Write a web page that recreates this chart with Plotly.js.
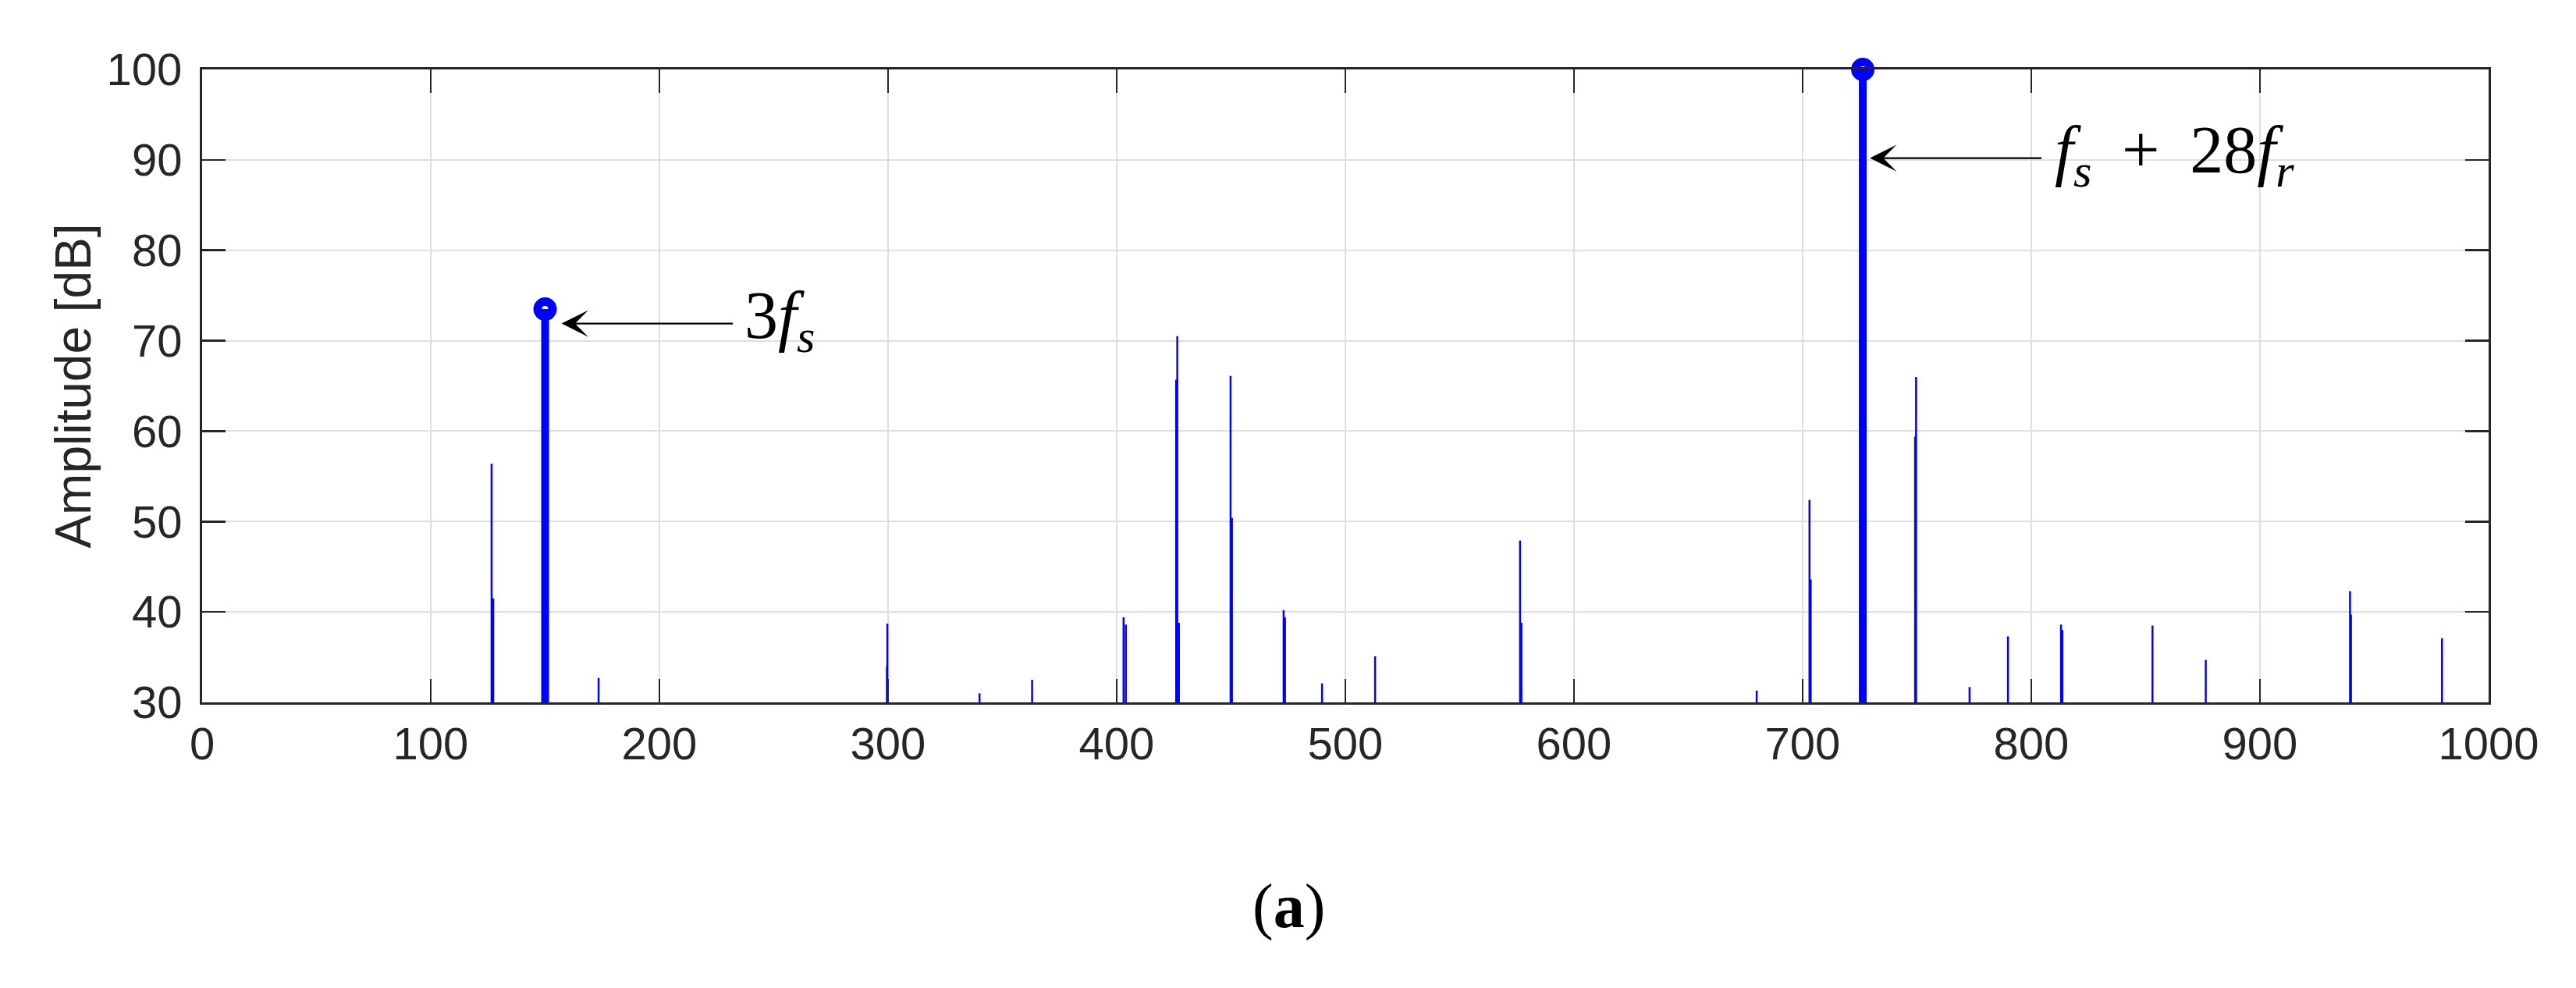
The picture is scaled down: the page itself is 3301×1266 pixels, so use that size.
<!DOCTYPE html>
<html>
<head>
<meta charset="utf-8">
<script src="https://cdn.plot.ly/plotly-3.0.1.min.js"></script>
<style>
  html, body { margin: 0; padding: 0; background: #ffffff; }
  #chart { width: 3301px; height: 1266px; }
</style>
</head>
<body>
<div id="chart"></div>
<script>
// ---- Data ----
// Minor spectral lines (frequency in Hz, amplitude in dB)
const minorFreq = [126.6, 127.3, 173.4, 299.7, 299.5, 340.0, 363.0, 403.0, 404.0, 426.0, 426.5, 427.2,
                   449.8, 450.4, 473.0, 473.6, 489.8, 513.0, 576.4, 577.0, 679.9, 703.0, 703.5,
                   749.6, 749.2, 773.0, 789.8, 813.0, 813.6, 853.0, 876.3, 939.4, 939.8, 979.6];
const minorAmp  = [56.4, 41.5, 32.7, 38.7, 34.0, 31.0, 32.5, 39.4, 38.6, 65.7, 70.5, 38.8,
                   66.1, 50.4, 40.2, 39.4, 32.1, 35.1, 47.9, 38.8, 31.3, 52.4, 43.6,
                   66.0, 59.4, 31.7, 37.3, 38.6, 38.0, 38.5, 34.7, 42.3, 39.7, 37.1];
// Highlighted spectral lines
const mainFreq = [150.0, 726.3];
const mainAmp  = [73.5, 100.0];
const mainLabels = ["3<i>f</i><sub><i>s</i></sub>",
                    "<i>f</i><sub><i>s</i></sub>\u2009 + \u200928<i>f</i><sub><i>r</i></sub>"];
// Annotation arrow tails and label anchors (data coordinates)
const arrowTipX  = [157.2, 729.4];
const arrowTailX = [232.6, 805.0];
const arrowY     = [71.9, 90.2];
const labelX     = [236.5, 809.5];
const labelY     = [72.3, 90.6];

const yBase = 30;
const xTicks = [0, 100, 200, 300, 400, 500, 600, 700, 800, 900, 1000];
const yTicks = [30, 40, 50, 60, 70, 80, 90, 100];

function stems(fs, as) {
  const x = [], y = [];
  for (let i = 0; i < fs.length; i++) {
    x.push(fs[i], fs[i], null);
    y.push(yBase, as[i], null);
  }
  return {x, y};
}

const s1 = stems(minorFreq, minorAmp);
const s2 = stems(mainFreq, mainAmp);

const traces = [
  { type: 'scatter', mode: 'lines', x: s1.x, y: s1.y,
    line: { color: '#0000ff', width: 2.5 }, hoverinfo: 'skip', showlegend: false },
  { type: 'scatter', mode: 'lines', x: s2.x, y: s2.y,
    line: { color: '#0000ff', width: 10 }, hoverinfo: 'skip', showlegend: false },
  { type: 'scatter', mode: 'markers', x: mainFreq, y: mainAmp, cliponaxis: false,
    marker: { symbol: 'circle-open', size: 19, color: '#0000ff', line: { color: '#0000ff', width: 11 } },
    hoverinfo: 'skip', showlegend: false }
];

const annotations = [];
for (let i = 0; i < mainFreq.length; i++) {
  annotations.push({
    x: arrowTipX[i], y: arrowY[i], xref: 'x', yref: 'y',
    ax: arrowTailX[i], ay: arrowY[i], axref: 'x', ayref: 'y',
    text: '', showarrow: true, arrowhead: 3, arrowsize: 2.6, arrowwidth: 2.2, arrowcolor: '#000000'
  });
  annotations.push({
    x: labelX[i], y: labelY[i], xref: 'x', yref: 'y', xanchor: 'left', yanchor: 'middle',
    text: mainLabels[i], showarrow: false,
    font: { family: 'Liberation Serif, Times New Roman, serif', size: 86, color: '#000000' }
  });
}
annotations.push({
  x: 0.4751, y: -0.323, xref: 'paper', yref: 'paper', xanchor: 'center', yanchor: 'middle',
  text: '(<b>a</b>)', showarrow: false,
  font: { family: 'Liberation Serif, Times New Roman, serif', size: 80, color: '#000000' }
});

const axisCommon = {
  showline: true, linecolor: '#262626', linewidth: 3, mirror: 'allticks',
  ticks: 'inside', ticklen: 30, tickwidth: 2.5, tickcolor: '#262626',
  showgrid: true, gridcolor: '#dfdfdf', gridwidth: 2, zeroline: false,
  tickfont: { family: 'Liberation Sans, Arial, Helvetica, sans-serif', size: 58, color: '#262626' }
};

const layout = {
  width: 3301, height: 1266,
  margin: { l: 259, r: 112, t: 89, b: 366 },
  paper_bgcolor: '#ffffff', plot_bgcolor: '#ffffff',
  showlegend: false,
  xaxis: Object.assign({}, axisCommon, {
    range: [0, 1000], tickmode: 'array', tickvals: xTicks, ticktext: xTicks.map(String),
    ticklabelstandoff: 0
  }),
  yaxis: Object.assign({}, axisCommon, {
    range: [30, 100], tickmode: 'array', tickvals: yTicks, ticktext: yTicks.map(String),
    ticklabelstandoff: 11,
    title: { text: 'Amplitude [dB]', standoff: 0,
             font: { family: 'Liberation Sans, Arial, Helvetica, sans-serif', size: 64, color: '#262626' } }
  }),
  annotations: annotations
};

Plotly.newPlot('chart', traces, layout, { staticPlot: true, displayModeBar: false });
</script>
</body>
</html>
